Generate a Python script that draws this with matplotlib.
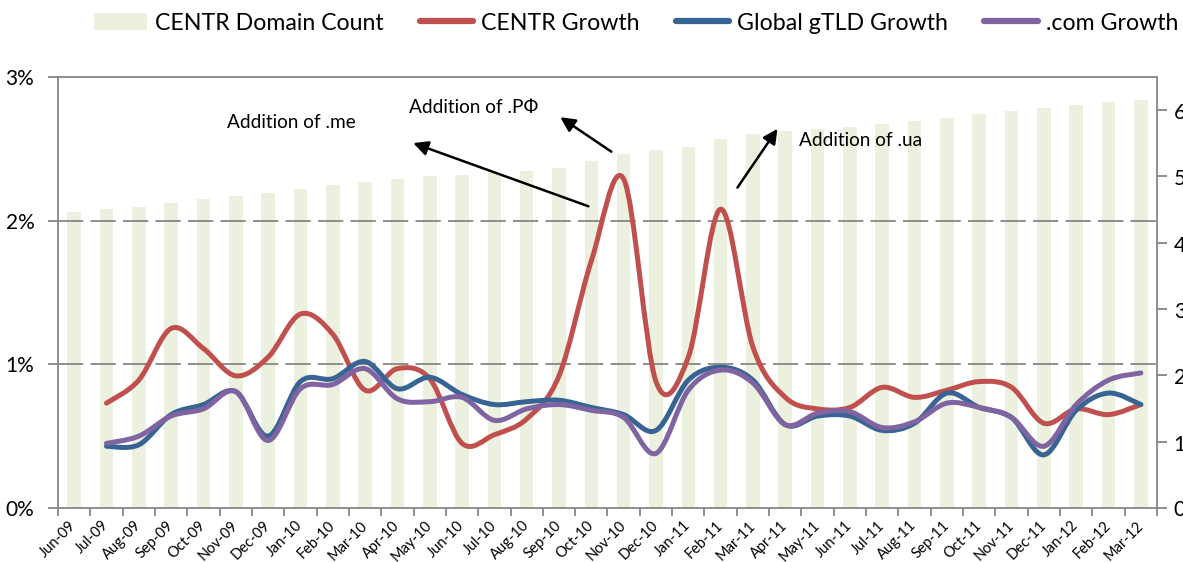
import numpy as np
import matplotlib.pyplot as plt
from matplotlib.path import Path
from matplotlib.patches import PathPatch, Patch
from matplotlib.lines import Line2D

plt.rcParams['font.family'] = ['Lato', 'DejaVu Sans']

months = ['Jun-09', 'Jul-09', 'Aug-09', 'Sep-09', 'Oct-09', 'Nov-09', 'Dec-09',
          'Jan-10', 'Feb-10', 'Mar-10', 'Apr-10', 'May-10', 'Jun-10', 'Jul-10',
          'Aug-10', 'Sep-10', 'Oct-10', 'Nov-10', 'Dec-10', 'Jan-11', 'Feb-11',
          'Mar-11', 'Apr-11', 'May-11', 'Jun-11', 'Jul-11', 'Aug-11', 'Sep-11',
          'Oct-11', 'Nov-11', 'Dec-11', 'Jan-12', 'Feb-12', 'Mar-12']

# CENTR domain count, millions (right axis)
domain_count = [44.7, 45.1, 45.4, 46.0, 46.6, 47.1, 47.5, 48.1, 48.7, 49.2, 49.6,
                50.1, 50.2, 50.5, 50.8, 51.3, 52.3, 53.4, 54.0, 54.4, 55.6, 56.4,
                56.8, 57.1, 57.4, 57.9, 58.3, 58.8, 59.4, 59.8, 60.3, 60.8, 61.2, 61.5]

# monthly growth in %, Jul-09 .. Mar-12 (left axis)
centr_growth = [0.73, 0.89, 1.25, 1.11, 0.92, 1.05, 1.35, 1.21, 0.82, 0.97, 0.90,
                0.45, 0.51, 0.62, 0.92, 1.72, 2.29, 0.88, 1.05, 2.08, 1.12, 0.77,
                0.69, 0.70, 0.84, 0.77, 0.82, 0.88, 0.84, 0.59, 0.69, 0.65, 0.72]
gtld_growth = [0.43, 0.44, 0.65, 0.72, 0.81, 0.50, 0.88, 0.90, 1.02, 0.83, 0.91,
               0.79, 0.72, 0.74, 0.75, 0.70, 0.65, 0.54, 0.89, 0.98, 0.89, 0.58,
               0.64, 0.64, 0.54, 0.59, 0.80, 0.70, 0.63, 0.37, 0.68, 0.80, 0.72]
com_growth = [0.45, 0.50, 0.64, 0.69, 0.81, 0.47, 0.83, 0.86, 0.97, 0.76, 0.74,
              0.77, 0.61, 0.69, 0.72, 0.68, 0.63, 0.38, 0.82, 0.96, 0.87, 0.58,
              0.66, 0.67, 0.56, 0.60, 0.73, 0.70, 0.63, 0.43, 0.72, 0.89, 0.94]

BAR = '#EBF1DE'
RED = '#C0504D'
BLUE = '#386494'
PURPLE = '#8064A2'
GREY = '#868686'


def smooth_path(xs, ys):
    # excel-style smoothed line: catmull-rom segments as cubic beziers
    p = np.column_stack([xs, ys]).astype(float)
    p = np.vstack([p[0], p, p[-1]])
    verts = [p[1]]
    codes = [Path.MOVETO]
    for i in range(1, len(p) - 2):
        c1 = p[i] + (p[i + 1] - p[i - 1]) / 6
        c2 = p[i + 1] - (p[i + 2] - p[i]) / 6
        verts += [c1, c2, p[i + 1]]
        codes += [Path.CURVE4] * 3
    return Path(verts, codes)


fig = plt.figure(figsize=(11.83, 5.62), dpi=100)
W, H = 1183, 562
ax_bar = fig.add_axes([58 / W, 1 - 508 / H, (1157 - 58) / W, (508 - 77) / H])
ax = ax_bar.twinx()

x = np.arange(len(months))
ax_bar.bar(x, domain_count, width=0.42, color=BAR, zorder=1)
ax_bar.set_xlim(-0.5, len(months) - 0.5)
ax_bar.set_ylim(0, 65)
ax_bar.yaxis.tick_right()
ax_bar.set_yticks(np.arange(0, 61, 10))
ax_bar.set_yticklabels([f'{v * 1000000:,.0f}' for v in range(0, 61, 10)])

ax_bar.set_xticks(x)
ax_bar.set_xticklabels(months, rotation=45, ha='right', va='center',
                       rotation_mode='anchor', fontsize=10.5)
ax_bar.set_xticks(np.arange(-0.5, len(months), 1), minor=True)
ax_bar.tick_params(axis='x', which='major', length=0, pad=11)
ax_bar.tick_params(axis='x', which='minor', length=6, color=GREY, width=1.3)
ax_bar.tick_params(axis='y', length=7, color=GREY, width=1.3, labelsize=15, pad=5)
for s in ax_bar.spines.values():
    s.set_color(GREY)
    s.set_linewidth(1.3)

ax.set_ylim(0, 3)
ax.yaxis.tick_left()
ax.set_yticks([0, 1, 2, 3])
ax.set_yticklabels(['0%', '1%', '2%', '3%'])
ax.tick_params(axis='y', length=7, color=GREY, width=1.3, labelsize=15, pad=10)
for s in ax.spines.values():
    s.set_visible(False)
for g in [1, 2]:
    ax.axhline(g, color=GREY, lw=1.3, ls=(0, (14, 4)), zorder=1)

xl = x[1:]
for vals, col in [(centr_growth, RED), (gtld_growth, BLUE), (com_growth, PURPLE)]:
    ax.add_patch(PathPatch(smooth_path(xl, vals), fill=False, edgecolor=col,
                           lw=3.6, capstyle='round', joinstyle='round', zorder=3))

arrow = dict(arrowstyle='-|>', color='black', lw=1.8, mutation_scale=22,
             shrinkA=0, shrinkB=0)
ax.annotate('', xy=(10.49, 2.54), xytext=(15.91, 2.10), arrowprops=arrow)
ax.annotate('', xy=(15.04, 2.72), xytext=(16.62, 2.48), arrowprops=arrow)
ax.annotate('', xy=(21.76, 2.64), xytext=(20.52, 2.23), arrowprops=arrow)
ax.text(6.71, 2.68, 'Addition of .me', fontsize=13.7, ha='center', va='center')
ax.text(12.35, 2.79, 'Addition of .РФ', fontsize=13.7, ha='center', va='center')
ax.text(24.33, 2.56, 'Addition of .ua', fontsize=13.7, ha='center', va='center')

handles = [Patch(facecolor=BAR, edgecolor='none'),
           Line2D([], [], color=RED, lw=4.5, solid_capstyle='round'),
           Line2D([], [], color=BLUE, lw=4.5, solid_capstyle='round'),
           Line2D([], [], color=PURPLE, lw=4.5, solid_capstyle='round')]
labels = ['CENTR Domain Count', 'CENTR Growth', 'Global gTLD Growth', '.com Growth']
fig.legend(handles, labels, loc='center', bbox_to_anchor=(636 / W, 1 - 23 / H),
           ncol=4, frameon=False, fontsize=16.7, handlelength=2.3, handleheight=0.75,
           handletextpad=0.35, columnspacing=1.55, borderpad=0)

fig.savefig('out.png', dpi=100)
